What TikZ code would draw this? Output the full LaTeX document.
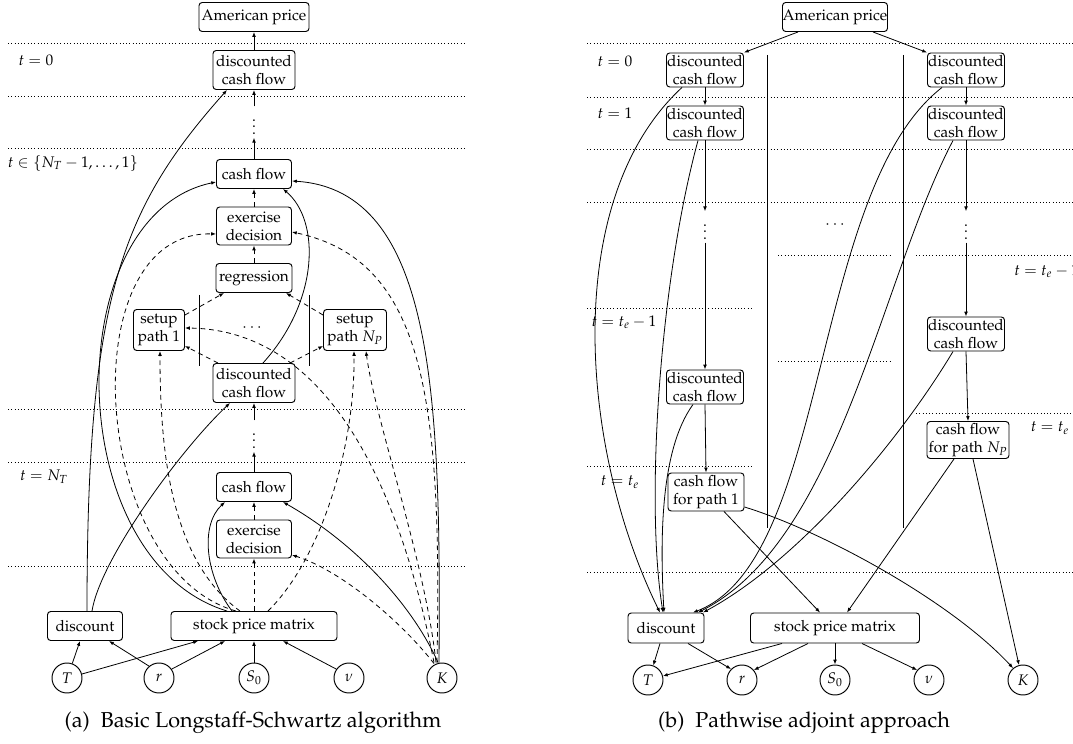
\documentclass[tikz,border=0pt]{standalone}
\usepackage[T1]{fontenc}
\usepackage{mathpazo}
\usetikzlibrary{arrows.meta,calc}
\begin{document}
\begin{tikzpicture}[x=0.625pt,y=-0.625pt,
  line width=0.5pt,
  >={Latex[length=3pt,width=2.3pt]},
  every node/.style={font=\fontsize{9.6}{11.2}\selectfont},
  box/.style={draw,line width=0.6pt,rounded corners=2pt,inner sep=0pt,align=center},
  circ/.style={draw,line width=0.6pt,circle,minimum size=18.75pt,inner sep=0pt},
  arr/.style={->},
  dsh/.style={->,dash pattern=on 3pt off 2.4pt},
  tline/.style={line width=0.45pt,dash pattern=on 0.45pt off 1.6pt},
  lbl/.style={inner sep=0pt},
  captxt/.style={font=\fontsize{13.5}{16}\selectfont,inner sep=0pt}]
\useasboundingbox (0,0) rectangle (1073,744);

% ---------------- (a) ----------------
\foreach \yy in {43,96,148,409,462,566} \draw[tline] (8,\yy) -- (465,\yy);
\node[lbl] (la0) at (36,60) {$t=0$};
\node[lbl] (la1) at (73,163) {$t\in\{N_T-1,\dots,1\}$};
\node[lbl] (la2) at (44,477) {$t=N_T$};

\node[box,minimum width=110*0.625pt,minimum height=29*0.625pt] (apA) at (254,17) {American price};
\node[box,minimum width=82*0.625pt,minimum height=39*0.625pt] (dcfA0) at (254,70) {discounted\\cash flow};
\node[inner sep=2pt] (vdA1) at (254,122) {$\vdots$};
\node[box,minimum width=75*0.625pt,minimum height=29*0.625pt] (cfA1) at (254,174) {cash flow};
\node[box,minimum width=75*0.625pt,minimum height=38*0.625pt] (edA1) at (254,226) {exercise\\decision};
\node[box,minimum width=76*0.625pt,minimum height=29*0.625pt] (regA) at (254,278) {regression};
\node[box,minimum width=51*0.625pt,minimum height=41*0.625pt] (sp1) at (159,330) {setup\\path 1};
\node[box,minimum width=63*0.625pt,minimum height=41*0.625pt] (spN) at (355,330) {setup\\path $N_P$};
\node[inner sep=0pt] (dotsA) at (252,328) {$\cdots$};
\node[box,minimum width=82*0.625pt,minimum height=39*0.625pt] (dcfA2) at (254,383) {discounted\\cash flow};
\node[inner sep=2pt] (vdA2) at (254,436) {$\vdots$};
\node[box,minimum width=75*0.625pt,minimum height=29*0.625pt] (cfA2) at (254,487) {cash flow};
\node[box,minimum width=75*0.625pt,minimum height=38*0.625pt] (edA2) at (254,539) {exercise\\decision};
\node[box,minimum width=75*0.625pt,minimum height=29*0.625pt] (discA) at (85,626) {discount};
\node[box,minimum width=166*0.625pt,minimum height=29*0.625pt] (spmA) at (254,626) {stock price matrix};
\node[circ] (TA) at (67,678) {$T$};
\node[circ] (rA) at (159,678) {$r$};
\node[circ] (S0A) at (254,678) {$S_0$};
\node[circ] (nuA) at (349,678) {$\nu$};
\node[circ] (KA) at (442,678) {$K$};
\node[captxt] (capA) at (253,723) {(a)\hskip0.5em Basic Longstaff-Schwartz algorithm};

\draw (199,295) -- (199,366);
\draw (309,295) -- (309,366);

% vertical chain
\draw[arr] (dcfA0) -- (apA);
\draw[arr] (vdA1) -- (dcfA0);
\draw[arr] (cfA1) -- (vdA1);
\draw[dsh] (edA1) -- (cfA1);
\draw[dsh] (regA) -- (edA1);
\draw[arr] (vdA2) -- (dcfA2);
\draw[arr] (cfA2) -- (vdA2);
\draw[dsh] (edA2) -- (cfA2);
\draw[dsh] (spmA) -- (edA2);

% discount
\draw[arr] ($(discA.north)+(2,0)$) .. controls (87,300) and (120,210) .. ($(dcfA0.south)+(-27,0)$);
\draw[arr] ($(discA.north)+(7,0)$) .. controls (100,560) and (180,450) .. ($(dcfA2.south)+(-24,0)$);

% stock price matrix
\draw[arr] ($(spmA.north)+(-27,0)$) .. controls (60,560) and (58,215) .. ($(cfA1.west)+(0,8)$);
\draw[arr] ($(spmA.north)+(-22,0)$) .. controls (205,575) and (200,525) .. ($(cfA2.south)+(-29,0)$);
\draw[dsh] ($(spmA.north)+(-14,0)$) .. controls (170,560) and (160,450) .. ($(sp1.south)+(1,0)$);
\draw[dsh] ($(spmA.north)+(-18,0)$) .. controls (90,570) and (70,230) .. ($(edA1.west)+(0,8)$);
\draw[dsh] ($(spmA.north)+(14,0)$) .. controls (320,560) and (355,450) .. ($(spN.south)+(-1,0)$);

% setup / regression
\draw[dsh] ($(sp1.east)+(0,-15)$) -- ($(regA.south)+(-30,0)$);
\draw[dsh] ($(spN.west)+(0,-15)$) -- ($(regA.south)+(32,0)$);
\draw[dsh] ($(dcfA2.north)+(-36,0)$) -- ($(sp1.east)+(0,16)$);
\draw[dsh] ($(dcfA2.north)+(36,0)$) -- ($(spN.west)+(0,16)$);
\draw[arr] ($(dcfA2.north)+(9,0)$) .. controls (320,300) and (320,220) .. ($(cfA1.south)+(29,0)$);

% K
\draw[arr] ($(KA.north)+(-3,0)$) .. controls (441,400) and (435,190) .. ($(cfA1.east)+(0,7)$);
\draw[dsh] ($(KA.north)+(-5,0)$) .. controls (442,400) and (425,260) .. ($(edA1.east)+(0,6)$);
\draw[dsh] ($(KA.north)+(-6,0)$) .. controls (425,560) and (375,420) .. ($(spN.south)+(11,0)$);
\draw[dsh] ($(KA.north)+(-8,0)$) .. controls (410,540) and (350,330) .. ($(sp1.east)+(0,-2)$);
\draw[dsh] ($(KA.north)+(-8,1)$) .. controls (400,620) and (340,570) .. ($(edA2.east)+(0,16)$);
\draw[arr] ($(KA.north)+(-4,0)$) .. controls (410,600) and (350,540) .. ($(cfA2.south)+(29,0)$);

% inputs
\draw[arr] (TA.70) -- ($(discA.south)+(-5,0)$);
\draw[arr] (rA.130) -- ($(discA.south)+(24,0)$);
\draw[arr] (TA.15) -- ($(spmA.south)+(-56,0)$);
\draw[arr] (rA.35) -- ($(spmA.south)+(-29,0)$);
\draw[arr] (S0A) -- (spmA);
\draw[arr] (nuA.145) -- ($(spmA.south)+(29,0)$);

% ---------------- (b) ----------------
\foreach \yy in {43,97,149,202,572} \draw[tline] (587,\yy) -- (1073,\yy);
\foreach \yy in {308,466} \draw[tline] (587,\yy) -- (753,\yy);
\foreach \yy in {255,361} \draw[tline] (778,\yy) -- (890,\yy);
\foreach \yy in {255,413} \draw[tline] (916,\yy) -- (1073,\yy);

\node[lbl] (lb0) at (615,61) {$t=0$};
\node[lbl] (lb1) at (615,113) {$t=1$};
\node[lbl] (lb2) at (624,322) {$t=t_e-1$};
\node[lbl] (lb3) at (620,482) {$t=t_e$};
\node[lbl,anchor=west] (lb4) at (1014,271) {$t=t_e-1$};
\node[lbl] (lb5) at (1050,428) {$t=t_e$};

\node[box,minimum width=105*0.625pt,minimum height=29*0.625pt] (apB) at (835,17) {American price};
\node[box,minimum width=77*0.625pt,minimum height=34*0.625pt] (dcfB00) at (705,70) {discounted\\cash flow};
\node[box,minimum width=77*0.625pt,minimum height=34*0.625pt] (dcfB01) at (705,123) {discounted\\cash flow};
\node[inner sep=2pt] (vdB1) at (705,227) {$\vdots$};
\node[box,minimum width=77*0.625pt,minimum height=34*0.625pt] (dcfB02) at (705,387) {discounted\\cash flow};
\node[box,minimum width=76*0.625pt,minimum height=38*0.625pt] (cfB1) at (706,492) {cash flow\\for path 1};
\node[box,minimum width=77*0.625pt,minimum height=34*0.625pt] (dcfB10) at (966,70) {discounted\\cash flow};
\node[box,minimum width=77*0.625pt,minimum height=34*0.625pt] (dcfB11) at (966,123) {discounted\\cash flow};
\node[inner sep=2pt] (vdB2) at (966,227) {$\vdots$};
\node[box,minimum width=77*0.625pt,minimum height=34*0.625pt] (dcfB12) at (966,334) {discounted\\cash flow};
\node[box,minimum width=82*0.625pt,minimum height=37*0.625pt] (cfBN) at (968,440) {cash flow\\for path $N_P$};
\node[inner sep=0pt] (dotsB) at (835,225) {$\cdots$};
\node[box,minimum width=76*0.625pt,minimum height=30*0.625pt] (discB) at (666,628) {discount};
\node[box,minimum width=169*0.625pt,minimum height=30*0.625pt] (spmB) at (835,628) {stock price matrix};
\node[circ] (TB) at (648,680) {$T$};
\node[circ] (rB) at (742,680) {$r$};
\node[circ] (S0B) at (835,680) {$S_0$};
\node[circ] (nuB) at (929,680) {$\nu$};
\node[circ] (KB) at (1023,680) {$K$};
\node[captxt] (capB) at (804,723) {(b)\hskip0.5em Pathwise adjoint approach};

\draw (767,55) -- (767,528);
\draw (903,55) -- (903,528);

\draw[arr] ($(apB.south)+(-37,0)$) -- (dcfB00.north east);
\draw[arr] ($(apB.south)+(38,0)$) -- (dcfB10.north west);
\draw[arr] (dcfB00) -- (dcfB01);
\draw[arr] (dcfB01) -- (vdB1);
\draw[arr] (vdB1) -- (dcfB02);
\draw[arr] (dcfB02.south) -- (cfB1.north);
\draw[arr] (dcfB10) -- (dcfB11);
\draw[arr] (dcfB11) -- (vdB2);
\draw[arr] (vdB2) -- (dcfB12);
\draw[arr] (dcfB12.south) -- (cfBN.north);

\draw[arr] ($(dcfB00.south)+(-23,0)$) .. controls (560,200) and (580,450) .. ($(discB.north)+(-6,0)$);
\draw[arr] ($(dcfB01.south)+(-7,0)$) .. controls (660,280) and (645,500) .. ($(discB.north)+(-3,0)$);
\draw[arr] ($(dcfB02.south)+(-12,0)$) .. controls (660,450) and (660,540) .. ($(discB.north)+(-2,0)$);
\draw[arr] ($(dcfB10.south)+(-24,0)$) .. controls (810,190) and (830,560) .. ($(discB.north)+(27,0)$);
\draw[arr] ($(dcfB11.south)+(-13,0)$) .. controls (880,280) and (840,540) .. ($(discB.north)+(32,0)$);
\draw[arr] ($(dcfB12.south)+(-13,0)$) .. controls (900,440) and (800,560) .. ($(discB.north)+(37,0)$);

\draw[arr] ($(cfB1.south)+(18,0)$) -- ($(spmB.north)+(-15,0)$);
\draw[arr] ($(cfB1.east)+(0,15)$) .. controls (820,530) and (950,600) .. (KB.130);
\draw[arr] ($(cfBN.south)+(-14,0)$) -- ($(spmB.north)+(12,0)$);
\draw[arr] ($(cfBN.south)+(5,0)$) -- (KB.105);

\draw[arr] ($(spmB.south)+(-53,0)$) -- (TB.15);
\draw[arr] ($(spmB.south)+(-27,0)$) -- (rB.40);
\draw[arr] (spmB) -- (S0B);
\draw[arr] ($(spmB.south)+(27,0)$) -- (nuB.140);
\draw[arr] ($(discB.south)+(-6,0)$) -- (TB.70);
\draw[arr] ($(discB.south)+(22,0)$) -- (rB.135);
\end{tikzpicture}
\end{document}
